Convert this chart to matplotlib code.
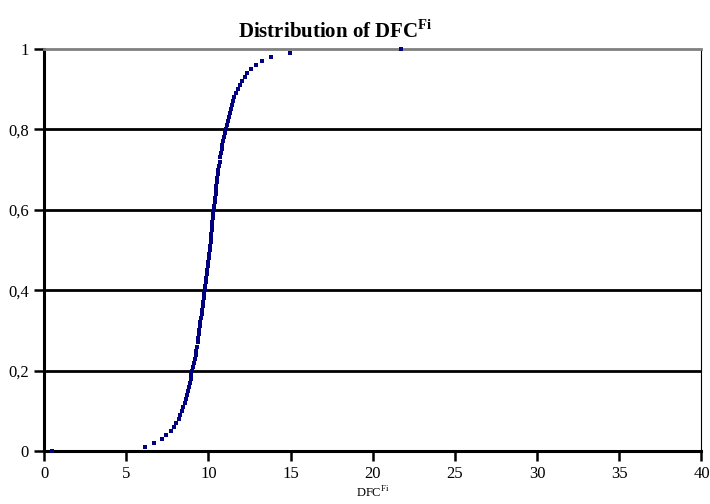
import matplotlib
matplotlib.use('Agg')
import matplotlib.pyplot as plt
import numpy as np

plt.rcParams['font.family'] = ['Liberation Serif', 'DejaVu Serif']
plt.rcParams['mathtext.fontset'] = 'custom'
plt.rcParams['mathtext.rm'] = 'Liberation Serif'
plt.rcParams['mathtext.bf'] = 'Liberation Serif:bold'

# sorted DFC values, one per percentile
dfc = [0.5, 6.15, 6.7, 7.15, 7.4, 7.7, 7.9, 8.05, 8.2, 8.3,
       8.4, 8.48, 8.57, 8.63, 8.7, 8.76, 8.82, 8.87, 8.92, 8.96,
       9.0, 9.08, 9.15, 9.19, 9.23, 9.27, 9.31, 9.34, 9.38, 9.41,
       9.45, 9.49, 9.52, 9.55, 9.59, 9.62, 9.66, 9.69, 9.72, 9.76,
       9.79, 9.82, 9.85, 9.88, 9.91, 9.94, 9.96, 9.99, 10.02, 10.05,
       10.08, 10.1, 10.13, 10.15, 10.18, 10.2, 10.23, 10.25, 10.28, 10.3,
       10.33, 10.36, 10.38, 10.41, 10.44, 10.47, 10.49, 10.52, 10.55, 10.57,
       10.6, 10.64, 10.68, 10.72, 10.76, 10.8, 10.85, 10.9, 10.95, 11.0,
       11.05, 11.11, 11.17, 11.23, 11.29, 11.35, 11.42, 11.5, 11.57, 11.65,
       11.78, 11.9, 12.05, 12.2, 12.35, 12.6, 12.9, 13.25, 13.8, 14.95,
       21.7]
cum = np.arange(len(dfc)) / (len(dfc) - 1)

xticks = [0, 5, 10, 15, 20, 25, 30, 35, 40]
yticks = [0, 0.2, 0.4, 0.6, 0.8, 1]
ylabels = ['0', '0,2', '0,4', '0,6', '0,8', '1']

fig = plt.figure(figsize=(7.1, 5.04), dpi=100)
ax = fig.add_axes([0.062, 0.105, 0.926, 0.798])

for yv in yticks[1:-1]:
    ax.axhline(yv, color='black', lw=2, zorder=1)

ax.plot(dfc, cum, ls='none', marker='s', ms=2.3, mew=0, color='#000080',
        zorder=4, clip_on=False)

ax.set_xlim(0, 40)
ax.set_ylim(0, 1)
ax.set_xticks(xticks)
ax.set_xticklabels([str(v) for v in xticks])
ax.set_yticks(yticks)
ax.set_yticklabels(ylabels)
ax.tick_params(direction='out', length=7, width=1.8, labelsize=12, pad=4)

for side in ['left', 'bottom']:
    ax.spines[side].set_linewidth(2.2)
    ax.spines[side].set_color('black')
ax.spines['top'].set_color('#808080')
ax.spines['top'].set_linewidth(2)
ax.spines['right'].set_color('black')
ax.spines['right'].set_linewidth(0.8)

ax.set_xlabel(r'DFC$^{\mathrm{Fi}}$', fontsize=9, labelpad=2)
fig.text(0.473, 0.925, r'Distribution of DFC$^{\mathbf{Fi}}$',
         ha='center', va='baseline', fontsize=15, fontweight='bold')

fig.savefig('out.png', dpi=100)
